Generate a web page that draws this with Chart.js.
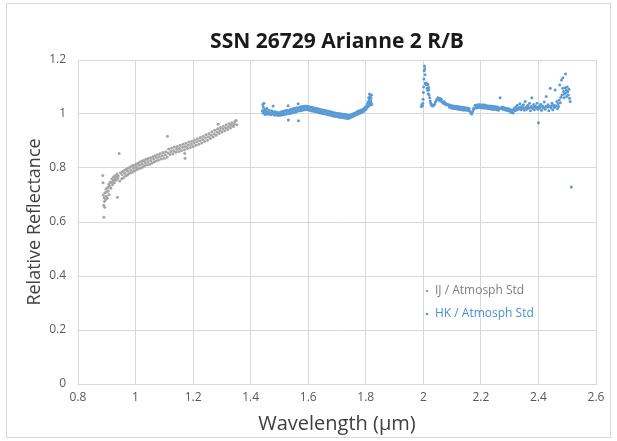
<!DOCTYPE html>
<html>
<head>
<meta charset="utf-8">
<title>SSN 26729 Arianne 2 R/B</title>
<script src="https://cdn.jsdelivr.net/npm/chart.js@4/dist/chart.umd.min.js"></script>
<style>
  html, body { margin: 0; padding: 0; background: #ffffff; }
  canvas { display: block; }
</style>
</head>
<body>
<canvas id="spectrum" width="617" height="441"></canvas>
<script>
// Tick labels
const xTicks = [0.8, 1, 1.2, 1.4, 1.6, 1.8, 2, 2.2, 2.4, 2.6];
const yTicks = [0, 0.2, 0.4, 0.6, 0.8, 1, 1.2];

const seriesNames = ["IJ / Atmosph Std", "HK / Atmosph Std"];

// IJ band
const ijWave = [
  0.886, 0.887, 0.888, 0.889, 0.890, 0.891, 0.892, 0.893, 0.894, 0.896,
  0.897, 0.899, 0.900, 0.902, 0.903, 0.905, 0.907, 0.908, 0.910, 0.912,
  0.914, 0.916, 0.918, 0.920, 0.922, 0.924, 0.926, 0.928, 0.930, 0.932,
  0.934, 0.936, 0.937, 0.938, 0.940, 0.943, 0.945, 0.948, 0.952, 0.955,
  0.958, 0.962, 0.965, 0.968, 0.972, 0.975, 0.978, 0.982, 0.985, 0.988,
  0.992, 0.995, 0.998, 1.002, 1.005, 1.008, 1.012, 1.015, 1.018, 1.022,
  1.025, 1.028, 1.032, 1.036, 1.040, 1.044, 1.048, 1.052, 1.056, 1.060,
  1.064, 1.068, 1.072, 1.076, 1.080, 1.085, 1.090, 1.095, 1.100, 1.105,
  1.110, 1.111, 1.115, 1.120, 1.125, 1.130, 1.135, 1.140, 1.145, 1.150,
  1.155, 1.160, 1.165, 1.170, 1.171, 1.172, 1.175, 1.180, 1.185, 1.190,
  1.195, 1.200, 1.205, 1.210, 1.215, 1.220, 1.225, 1.230, 1.235, 1.240,
  1.245, 1.250, 1.255, 1.260, 1.265, 1.270, 1.275, 1.280, 1.285, 1.287,
  1.290, 1.295, 1.300, 1.305, 1.310, 1.315, 1.320, 1.325, 1.330, 1.335,
  1.340, 1.345, 1.350, 1.352,
  0.953, 0.963, 0.973, 0.983, 0.993, 1.003, 1.013, 1.023, 1.033, 1.043,
  1.053, 1.063, 1.073, 1.083, 1.093, 1.103, 1.113, 1.123, 1.133, 1.143,
  1.153, 1.163, 1.173, 1.183, 1.193, 1.203, 1.213, 1.223, 1.233, 1.243,
  1.253, 1.263, 1.273, 1.283, 1.293, 1.303, 1.313, 1.323, 1.333, 1.343
];
const ijRefl = [
  0.772, 0.745, 0.700, 0.662, 0.618, 0.690, 0.676, 0.655, 0.708, 0.683,
  0.722, 0.695, 0.712, 0.688, 0.728, 0.715, 0.740, 0.702, 0.732, 0.748,
  0.725, 0.745, 0.760, 0.738, 0.752, 0.768, 0.745, 0.758, 0.772, 0.755,
  0.765, 0.778, 0.692, 0.762, 0.770, 0.854, 0.752, 0.782, 0.760, 0.787,
  0.764, 0.792, 0.770, 0.795, 0.774, 0.800, 0.780, 0.804, 0.782, 0.808,
  0.787, 0.810, 0.790, 0.814, 0.794, 0.818, 0.798, 0.822, 0.800, 0.825,
  0.804, 0.828, 0.808, 0.832, 0.812, 0.835, 0.814, 0.838, 0.818, 0.842,
  0.822, 0.845, 0.826, 0.849, 0.830, 0.853, 0.833, 0.857, 0.836, 0.860,
  0.841, 0.918, 0.870, 0.850, 0.873, 0.853, 0.878, 0.858, 0.880, 0.861,
  0.884, 0.864, 0.888, 0.868, 0.854, 0.836, 0.892, 0.872, 0.896, 0.876,
  0.899, 0.880, 0.904, 0.884, 0.908, 0.888, 0.913, 0.893, 0.918, 0.898,
  0.923, 0.903, 0.928, 0.909, 0.934, 0.915, 0.940, 0.921, 0.945, 0.962,
  0.928, 0.950, 0.933, 0.955, 0.938, 0.960, 0.943, 0.964, 0.948, 0.968,
  0.954, 0.972, 0.976, 0.960,
  0.775, 0.781, 0.788, 0.793, 0.799, 0.804, 0.810, 0.814, 0.820, 0.824,
  0.828, 0.833, 0.838, 0.842, 0.845, 0.849, 0.856, 0.861, 0.864, 0.869,
  0.872, 0.877, 0.880, 0.884, 0.888, 0.893, 0.897, 0.901, 0.906, 0.911,
  0.916, 0.921, 0.927, 0.933, 0.939, 0.944, 0.949, 0.953, 0.958, 0.962
];

// HK band
const hkWave = [
  1.441, 1.442, 1.443, 1.444, 1.445, 1.446, 1.447, 1.449, 1.450, 1.452,
  1.454, 1.456, 1.458, 1.461, 1.464, 1.467, 1.470, 1.473, 1.476, 1.478,
  1.480, 1.483, 1.486, 1.489, 1.492, 1.495, 1.498, 1.501, 1.504, 1.507,
  1.510, 1.513, 1.516, 1.519, 1.522, 1.525, 1.528, 1.530, 1.531, 1.533,
  1.536, 1.539, 1.542, 1.545, 1.548, 1.551, 1.554, 1.557, 1.560, 1.563,
  1.565, 1.566, 1.568, 1.571, 1.574, 1.577, 1.580, 1.583, 1.586, 1.589,
  1.592, 1.595, 1.598, 1.601, 1.604, 1.607, 1.610, 1.613, 1.616, 1.619,
  1.622, 1.625, 1.628, 1.631, 1.634, 1.637, 1.640, 1.643, 1.646, 1.649,
  1.652, 1.655, 1.658, 1.661, 1.664, 1.667, 1.670, 1.673, 1.676, 1.679,
  1.682, 1.685, 1.688, 1.691, 1.694, 1.697, 1.700, 1.703, 1.706, 1.709,
  1.712, 1.715, 1.718, 1.721, 1.724, 1.727, 1.730, 1.733, 1.736, 1.739,
  1.742, 1.745, 1.748, 1.751, 1.754, 1.757, 1.760, 1.763, 1.766, 1.769,
  1.772, 1.775, 1.778, 1.781, 1.784, 1.787, 1.790, 1.793, 1.796, 1.798,
  1.800, 1.802, 1.804, 1.806, 1.808, 1.809, 1.810, 1.811, 1.812, 1.813,
  1.814, 1.815, 1.816, 1.817, 1.818, 1.819, 1.820, 1.821,
  1.455, 1.465, 1.475, 1.485, 1.495, 1.505, 1.515, 1.525, 1.535, 1.545,
  1.555, 1.565, 1.575, 1.585, 1.595, 1.605, 1.615, 1.625, 1.635, 1.645,
  1.655, 1.665, 1.675, 1.685, 1.695, 1.705, 1.715, 1.725, 1.735, 1.745,
  1.755, 1.765, 1.775, 1.785, 1.795,
  1.993, 1.995, 1.997, 1.998, 1.999, 2.000, 2.001, 2.002, 2.003, 2.004,
  2.005, 2.006, 2.007, 2.008, 2.009, 2.010, 2.011, 2.012, 2.013, 2.014,
  2.015, 2.016, 2.017, 2.018, 2.019, 2.020, 2.022, 2.024, 2.026, 2.028,
  2.030, 2.033, 2.036, 2.039, 2.042, 2.045, 2.048, 2.051, 2.054, 2.057,
  2.060, 2.063, 2.066, 2.069, 2.072, 2.075, 2.078, 2.081, 2.084, 2.087,
  2.090, 2.093, 2.096, 2.099, 2.102, 2.105, 2.108, 2.111, 2.114, 2.117,
  2.120, 2.123, 2.126, 2.129, 2.132, 2.135, 2.138, 2.141, 2.144, 2.147,
  2.150, 2.153, 2.156, 2.159, 2.162, 2.165, 2.168, 2.171, 2.174, 2.177,
  2.180, 2.183, 2.186, 2.189, 2.192, 2.195, 2.198, 2.201, 2.204, 2.207,
  2.210, 2.213, 2.216, 2.219, 2.222, 2.225, 2.228, 2.231, 2.234, 2.237,
  2.240, 2.243, 2.246, 2.249, 2.252, 2.255, 2.258, 2.261, 2.264, 2.267,
  2.270, 2.273, 2.276, 2.279, 2.282, 2.285, 2.288, 2.291, 2.294, 2.297,
  2.300, 2.303, 2.306, 2.309, 2.312, 2.315, 2.318, 2.321, 2.324, 2.327,
  2.330, 2.333, 2.336, 2.339, 2.342, 2.345, 2.348, 2.351, 2.354, 2.357,
  2.360, 2.363, 2.366, 2.369, 2.372, 2.375, 2.377, 2.380, 2.383, 2.386,
  2.389, 2.392, 2.395, 2.398, 2.400, 2.402, 2.405, 2.408, 2.411, 2.414,
  2.417, 2.420, 2.423, 2.427, 2.430, 2.433, 2.436, 2.439, 2.441, 2.444,
  2.447, 2.450, 2.453, 2.456, 2.458, 2.461, 2.464, 2.466, 2.468, 2.470,
  2.472, 2.474, 2.476, 2.478, 2.480, 2.482, 2.484, 2.485, 2.487, 2.489,
  2.490, 2.492, 2.494, 2.495, 2.497, 2.498, 2.500, 2.502, 2.504, 2.506,
  2.508, 2.510, 2.514,
  2.095, 2.105, 2.115, 2.125, 2.135, 2.145, 2.155, 2.175, 2.185, 2.195,
  2.205, 2.215, 2.225, 2.235, 2.245, 2.255, 2.265, 2.275, 2.285, 2.295,
  2.305, 2.315, 2.325, 2.335, 2.345, 2.355, 2.365, 2.375, 2.385, 2.395,
  2.405, 2.415, 2.425, 2.435, 2.445, 2.455
];
const hkRefl = [
  1.012, 1.035, 1.004, 1.026, 1.015, 1.040, 1.008, 1.018, 0.998, 1.014,
  1.002, 1.020, 1.006, 0.999, 1.014, 1.003, 0.997, 1.012, 1.000, 1.030,
  1.008, 0.995, 1.008, 0.997, 1.006, 0.994, 1.005, 0.995, 1.007, 0.996,
  1.009, 0.997, 1.011, 0.999, 1.013, 1.000, 1.014, 1.031, 0.978, 1.002,
  1.016, 1.003, 1.018, 1.005, 1.020, 1.006, 1.021, 1.008, 1.023, 1.010,
  1.038, 0.975, 1.024, 1.012, 1.027, 1.013, 1.028, 1.015, 1.029, 1.016,
  1.030, 1.017, 1.029, 1.015, 1.027, 1.013, 1.025, 1.011, 1.024, 1.010,
  1.022, 1.008, 1.021, 1.007, 1.019, 1.005, 1.018, 1.004, 1.016, 1.002,
  1.015, 1.001, 1.013, 1.000, 1.012, 0.998, 1.010, 0.996, 1.009, 0.995,
  1.007, 0.993, 1.006, 0.992, 1.004, 0.991, 1.003, 0.990, 1.002, 0.988,
  1.001, 0.987, 1.000, 0.986, 0.999, 0.985, 0.998, 0.984, 0.996, 0.983,
  0.995, 0.986, 0.997, 0.989, 1.000, 0.992, 1.003, 0.995, 1.006, 0.998,
  1.010, 1.001, 1.012, 1.004, 1.015, 1.006, 1.018, 1.010, 1.022, 1.025,
  1.017, 1.030, 1.022, 1.038, 1.045, 1.028, 1.060, 1.036, 1.052, 1.074,
  1.042, 1.066, 1.033, 1.048, 1.058, 1.040, 1.070, 1.035,
  1.008, 1.006, 1.004, 1.001, 1.000, 1.001, 1.004, 1.007, 1.009, 1.012,
  1.015, 1.017, 1.020, 1.022, 1.023, 1.021, 1.018, 1.015, 1.012, 1.010,
  1.008, 1.005, 1.002, 1.000, 0.998, 0.996, 0.994, 0.992, 0.990, 0.991,
  0.996, 1.000, 1.006, 1.010, 1.016,
  1.028, 1.034, 1.030, 1.040, 1.055, 1.080, 1.100, 1.130, 1.160, 1.178,
  1.168, 1.145, 1.115, 1.112, 1.110, 1.114, 1.108, 1.112, 1.095, 1.110,
  1.088, 1.108, 1.075, 1.098, 1.090, 1.070, 1.060, 1.048, 1.040, 1.034,
  1.031, 1.030, 1.032, 1.036, 1.044, 1.050, 1.056, 1.060, 1.052, 1.058,
  1.048, 1.055, 1.044, 1.040, 1.046, 1.036, 1.040, 1.033, 1.036, 1.034,
  1.026, 1.033, 1.022, 1.031, 1.021, 1.030, 1.020, 1.029, 1.019, 1.028,
  1.018, 1.027, 1.017, 1.026, 1.016, 1.025, 1.015, 1.024, 1.015, 1.023,
  1.014, 1.022, 1.013, 1.020, 1.010, 1.004, 1.000, 1.008, 1.016, 1.022,
  1.032, 1.022, 1.033, 1.023, 1.035, 1.024, 1.034, 1.023, 1.033, 1.022,
  1.034, 1.022, 1.032, 1.021, 1.031, 1.020, 1.030, 1.019, 1.030, 1.018,
  1.029, 1.018, 1.028, 1.017, 1.027, 1.016, 1.026, 1.014, 1.022, 1.060,
  1.020, 1.026, 1.018, 1.024, 1.016, 1.022, 1.014, 1.020, 1.012, 1.019,
  1.010, 1.017, 1.006, 1.014, 1.004, 1.020, 1.012, 1.026, 1.015, 1.032,
  1.018, 1.024, 1.038, 1.016, 1.028, 1.021, 1.034, 1.014, 1.046, 1.025,
  1.018, 1.032, 1.022, 1.040, 1.012, 1.028, 1.060, 1.020, 1.035, 1.016,
  1.030, 1.024, 1.040, 1.018, 0.968, 1.028, 1.022, 1.036, 1.014, 1.030,
  1.024, 1.044, 1.018, 1.065, 1.026, 1.034, 1.012, 1.028, 1.095, 1.022,
  1.040, 1.016, 1.032, 1.024, 1.089, 1.030, 1.046, 1.020, 1.038, 1.028,
  1.052, 1.107, 1.042, 1.062, 1.126, 1.070, 1.095, 1.134, 1.083, 1.060,
  1.074, 1.097, 1.148, 1.078, 1.088, 1.065, 1.100, 1.082, 1.070, 1.092,
  1.058, 1.046, 0.730,
  1.027, 1.025, 1.024, 1.022, 1.021, 1.019, 1.018, 1.020, 1.027, 1.029,
  1.028, 1.027, 1.026, 1.024, 1.023, 1.022, 1.021, 1.020, 1.019, 1.016,
  1.012, 1.016, 1.020, 1.022, 1.024, 1.023, 1.025, 1.024, 1.026, 1.025,
  1.027, 1.026, 1.028, 1.027, 1.030, 1.031
];

const ijColor = "#a5a5a5";
const hkColor = "#5b9bd5";

function toPoints(xs, ys) {
  return xs.map((x, i) => ({ x: x, y: ys[i] }));
}

// Legend sits inside the plot, lower right, like the original
const insideLegend = {
  id: "insideLegend",
  afterDraw(chart) {
    const { ctx, chartArea } = chart;
    const left = chartArea.left + 349;
    let y = chartArea.top + 231;
    ctx.save();
    ctx.font = "12px 'Open Sans'";
    ctx.textBaseline = "middle";
    chart.data.datasets.forEach((ds) => {
      ctx.fillStyle = ds.backgroundColor;
      ctx.beginPath();
      ctx.arc(left, y, 1.3, 0, Math.PI * 2);
      ctx.fill();
      ctx.fillStyle = ds.legendTextColor;
      ctx.fillText(ds.label, left + 8, y);
      y += 23;
    });
    ctx.restore();
  },
};

// Thin frame around the whole chart
const chartFrame = {
  id: "chartFrame",
  afterDraw(chart) {
    const ctx = chart.ctx;
    ctx.save();
    ctx.strokeStyle = "#d9d9d9";
    ctx.lineWidth = 1;
    ctx.strokeRect(6.5, 3.5, chart.width - 13, chart.height - 7);
    ctx.restore();
  },
};

new Chart(document.getElementById("spectrum"), {
  type: "scatter",
  data: {
    datasets: [
      {
        label: seriesNames[0],
        data: toPoints(ijWave, ijRefl),
        backgroundColor: ijColor,
        borderWidth: 0,
        pointRadius: 1.5,
        legendTextColor: "#7f7f7f",
      },
      {
        label: seriesNames[1],
        data: toPoints(hkWave, hkRefl),
        backgroundColor: hkColor,
        borderWidth: 0,
        pointRadius: 1.5,
        legendTextColor: "#4a8ed0",
      },
    ],
  },
  options: {
    responsive: false,
    animation: false,
    devicePixelRatio: 1,
    layout: { padding: { left: 20, right: 21, top: 0, bottom: 0 } },
    plugins: {
      legend: { display: false },
      tooltip: { enabled: false },
      title: {
        display: true,
        fullSize: false,
        text: "SSN 26729 Arianne 2 R/B",
        color: "#1a1a1a",
        font: { family: "'Open Sans'", size: 21, weight: "bold" },
        padding: { top: 29, bottom: 5.8 },
      },
    },
    scales: {
      x: {
        type: "linear",
        min: 0.8,
        max: 2.6,
        afterBuildTicks: (scale) => {
          scale.ticks = xTicks.map((v) => ({ value: v }));
        },
        afterFit: (scale) => {
          scale.height = 57;
        },
        grid: { color: "#d9d9d9", drawTicks: false },
        border: { color: "#d9d9d9" },
        ticks: {
          padding: 6,
          color: "#595959",
          font: { family: "'Open Sans'", size: 12 },
          callback: (value) => String(value),
        },
        title: {
          display: true,
          text: "Wavelength (µm)",
          color: "#404040",
          font: { family: "'Open Sans'", size: 20 },
          padding: { top: 0, bottom: 5 },
        },
      },
      y: {
        type: "linear",
        min: 0,
        max: 1.2,
        afterBuildTicks: (scale) => {
          scale.ticks = yTicks.map((v) => ({ value: v }));
        },
        afterFit: (scale) => {
          scale.width = 58;
        },
        grid: { color: "#d9d9d9", drawTicks: false },
        border: { color: "#d9d9d9" },
        ticks: {
          padding: 12,
          color: "#595959",
          font: { family: "'Open Sans'", size: 12 },
          callback: (value) => String(value),
        },
        title: {
          display: true,
          text: "Relative Reflectance",
          color: "#404040",
          font: { family: "'Open Sans'", size: 18 },
          padding: { top: 4, bottom: 0 },
        },
      },
    },
  },
  plugins: [insideLegend, chartFrame],
});
</script>
</body>
</html>
